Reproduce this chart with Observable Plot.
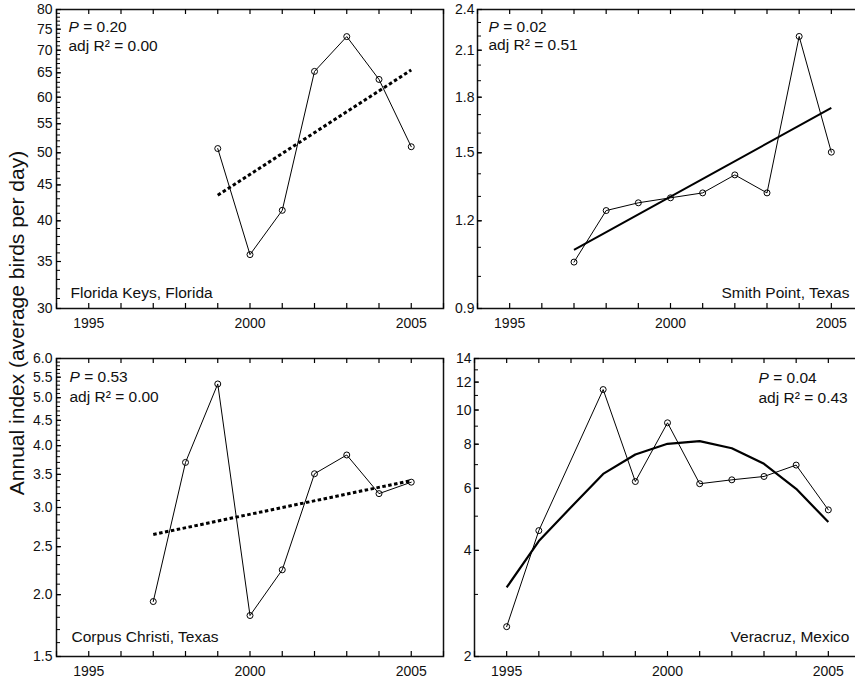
<!DOCTYPE html>
<html><head><meta charset="utf-8">
<script src="https://cdn.jsdelivr.net/npm/d3@7"></script>
<script src="https://cdn.jsdelivr.net/npm/@observablehq/plot@0.6"></script>
<style>
body{margin:0;background:#fff;overflow:hidden;font-family:"Liberation Sans",Arial,sans-serif;}
#wrap{position:relative;width:855px;height:680px;overflow:hidden;background:#fff;}
.panel{position:absolute;width:450px;height:340px;}
.panel svg{max-width:none !important;}
#ytitle{position:absolute;left:17px;top:323px;transform:translate(-50%,-50%) rotate(-90deg);font-size:21px;white-space:nowrap;color:#111;}
</style></head><body>
<div id="wrap"><div id="ytitle">Annual index (average birds per day)</div></div>
<script>
// ---------- data ----------
const allYears = [1994,1995,1996,1997,1998,1999,2000,2001,2002,2003,2004,2005,2006];
const xLabelTicks = [1995, 2000, 2005];

// Florida Keys, Florida
const flYears = [1999,2000,2001,2002,2003,2004,2005];
const flValues = [50.7,35.8,41.4,65.3,73.2,63.6,51.0];
const flTrendYears = [1999,2005];
const flTrendValues = [43.5,65.6];
const flTicks = [30,35,40,45,50,55,60,65,70,75,80];

// Smith Point, Texas
const spYears = [1997,1998,1999,2000,2001,2002,2003,2004,2005];
const spValues = [1.048,1.241,1.273,1.294,1.315,1.395,1.315,2.197,1.503];
const spTrendYears = [1997,2005];
const spTrendValues = [1.091,1.738];
const spTicks = [0.9,1.2,1.5,1.8,2.1,2.4];

// Corpus Christi, Texas
const ccYears = [1997,1998,1999,2000,2001,2002,2003,2004,2005];
const ccValues = [1.937,3.70,5.33,1.815,2.245,3.51,3.83,3.20,3.375];
const ccTrendYears = [1997,2005];
const ccTrendValues = [2.646,3.40];
const ccTicks = [1.5,2.0,2.5,3.0,3.5,4.0,4.5,5.0,5.5,6.0];

// Veracruz, Mexico
const vcYears = [1995,1996,1998,1999,2000,2001,2002,2003,2004,2005];
const vcValues = [2.43,4.55,11.43,6.27,9.2,6.18,6.34,6.48,6.98,5.21];
const vcTrendYears = [1995,1996,1997,1998,1999,2000,2001,2002,2003,2004,2005];
const vcTrendValues = [3.14,4.25,5.30,6.59,7.48,8.02,8.16,7.79,7.04,5.98,4.81];
const vcTicks = [2,4,6,8,10,12,14];

const statsText = {
  fl: ["P = 0.20", "adj R\u00B2 = 0.00"],
  sp: ["P = 0.02", "adj R\u00B2 = 0.51"],
  cc: ["P = 0.53", "adj R\u00B2 = 0.00"],
  vc: ["P = 0.04", "adj R\u00B2 = 0.43"]
};
const siteNames = {
  fl: "Florida Keys, Florida",
  sp: "Smith Point, Texas",
  cc: "Corpus Christi, Texas",
  vc: "Veracruz, Mexico"
};

// ---------- helpers ----------
const zip = (xs, ys) => xs.map((x, i) => ({x, y: ys[i]}));
function minorTicks(lo, hi, step) {
  const out = [];
  const n = Math.round((hi - lo) / step);
  for (let i = 0; i <= n; i++) out.push(+(lo + i * step).toFixed(4));
  return out;
}

function makePanel(cfg) {
  const pts = zip(cfg.years, cfg.values);
  const trend = zip(cfg.trendYears, cfg.trendValues);
  const innerW = cfg.width - cfg.mL - cfg.mR;
  const innerH = cfg.height - cfg.mT - cfg.mB;
  const fontFamily = '"Liberation Sans", Arial, sans-serif';
  const plot = Plot.plot({
    width: cfg.width, height: cfg.height,
    marginLeft: cfg.mL, marginRight: cfg.mR, marginTop: cfg.mT, marginBottom: cfg.mB,
    style: {fontFamily, fontSize: "14px", color: "#111", background: "transparent", overflow: "visible"},
    x: {domain: [1994, 2006]},
    y: {type: "log", domain: cfg.yDomain},
    marks: [
      // tick labels
      Plot.axisX({ticks: xLabelTicks, tickSize: 0, tickPadding: 10, tickFormat: d => String(d), label: null, fontSize: 14}),
      Plot.axisY({ticks: cfg.yTicks, tickSize: 0, tickPadding: cfg.yPad, tickFormat: cfg.yFormat, label: null, fontSize: 14}),
      Plot.frame({stroke: "#111", strokeWidth: 1.5}),
      // inward ticks
      Plot.tickX(allYears, {x: d => d, insetTop: innerH - 5, stroke: "#000", strokeWidth: 1.2}),
      Plot.tickX(allYears, {x: d => d, insetBottom: innerH - 5, stroke: "#000", strokeWidth: 1.2}),
      Plot.tickY(cfg.yMinor, {y: d => d, insetRight: innerW - 4, stroke: "#000", strokeWidth: 1}),
      Plot.tickY(cfg.yTicks, {y: d => d, insetRight: innerW - 5, stroke: "#000", strokeWidth: 1.2}),
      // trend
      Plot.line(trend, {x: "x", y: "y", stroke: "#000", strokeWidth: cfg.trendWidth, strokeDasharray: cfg.trendDash, strokeLinecap: "butt", curve: "linear"}),
      // data
      Plot.line(pts, {x: "x", y: "y", stroke: "#000", strokeWidth: 1}),
      Plot.dot(pts, {x: "x", y: "y", r: 3, stroke: "#000", fill: "none", strokeWidth: 1}),
      // annotations
      Plot.text([cfg.stats[0]], {text: d => d, frameAnchor: "top-left", textAnchor: "start", lineAnchor: "middle", dx: cfg.sDx, dy: cfg.sDy[0], fontSize: 15.5, fill: "#111"}),
      Plot.text([cfg.stats[1]], {text: d => d, frameAnchor: "top-left", textAnchor: "start", lineAnchor: "middle", dx: cfg.sDx, dy: cfg.sDy[1], fontSize: 15.5, fill: "#111"}),
      Plot.text([cfg.site], {text: d => d, frameAnchor: cfg.siteAnchor, textAnchor: cfg.siteAnchor === "bottom-left" ? "start" : "end", lineAnchor: "middle", dx: cfg.siteDx, dy: cfg.siteDy, fontSize: 15.5, fill: "#111"})
    ]
  });
  // italic P
  plot.querySelectorAll("text").forEach(t => {
    if (t.textContent.startsWith("P = ")) {
      const rest = t.textContent.slice(1);
      t.textContent = "";
      const ts = document.createElementNS("http://www.w3.org/2000/svg", "tspan");
      ts.setAttribute("font-style", "italic");
      ts.textContent = "P";
      t.appendChild(ts);
      t.appendChild(document.createTextNode(rest));
    }
  });
  plot.style.maxWidth = "none";
  const div = document.createElement("div");
  div.className = "panel";
  div.style.left = cfg.left + "px";
  div.style.top = cfg.top + "px";
  div.appendChild(plot);
  document.getElementById("wrap").appendChild(div);
}

makePanel({
  left: 0, top: 0, width: 450, height: 340, mL: 56, mR: 7, mT: 9, mB: 32,
  yDomain: [30, 80], yTicks: flTicks, yMinor: minorTicks(30, 80, 1), yPad: 4, yFormat: d => String(d),
  years: flYears, values: flValues, trendYears: flTrendYears, trendValues: flTrendValues,
  trendWidth: 3, trendDash: "3.5,2.5",
  stats: statsText.fl, sDx: 12, sDy: [18, 37],
  site: siteNames.fl, siteAnchor: "bottom-left", siteDx: 14, siteDy: -15
});
makePanel({
  left: 420, top: 0, width: 450, height: 340, mL: 57, mR: 7, mT: 9, mB: 32,
  yDomain: [0.9, 2.4], yTicks: spTicks, yMinor: minorTicks(0.9, 2.4, 0.1), yPad: 3, yFormat: d => d.toFixed(1),
  years: spYears, values: spValues, trendYears: spTrendYears, trendValues: spTrendValues,
  trendWidth: 2, trendDash: null,
  stats: statsText.sp, sDx: 11, sDy: [18, 36],
  site: siteNames.sp, siteAnchor: "bottom-right", siteDx: -14, siteDy: -15
});
makePanel({
  left: 0, top: 340, width: 450, height: 340, mL: 56, mR: 7, mT: 18, mB: 24,
  yDomain: [1.5, 6.0], yTicks: ccTicks, yMinor: minorTicks(1.5, 6.0, 0.1), yPad: 4, yFormat: d => d.toFixed(1),
  years: ccYears, values: ccValues, trendYears: ccTrendYears, trendValues: ccTrendValues,
  trendWidth: 3, trendDash: "3.5,2.5",
  stats: statsText.cc, sDx: 13, sDy: [19, 39],
  site: siteNames.cc, siteAnchor: "bottom-left", siteDx: 15, siteDy: -19
});
makePanel({
  left: 420, top: 340, width: 450, height: 340, mL: 54, mR: 10, mT: 18, mB: 24,
  yDomain: [2, 14], yTicks: vcTicks, yMinor: minorTicks(2, 14, 1), yPad: 3, yFormat: d => String(d),
  years: vcYears, values: vcValues, trendYears: vcTrendYears, trendValues: vcTrendValues,
  trendWidth: 2.2, trendDash: null,
  stats: statsText.vc, sDx: 284, sDy: [20, 40],
  site: siteNames.vc, siteAnchor: "bottom-right", siteDx: -11, siteDy: -19
});
</script>
</body></html>
